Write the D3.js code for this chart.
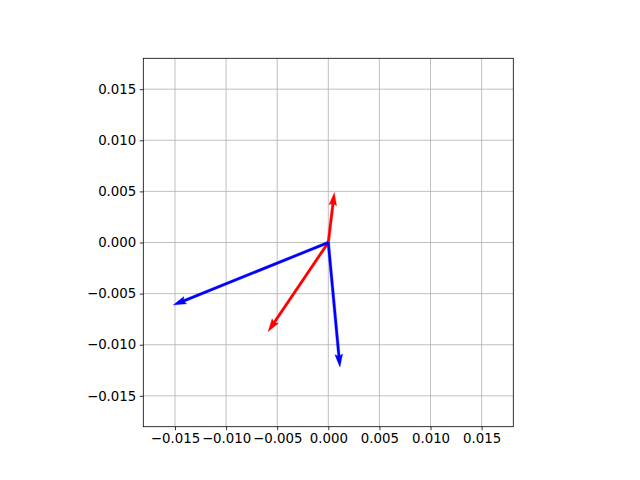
<!DOCTYPE html>
<html>
<head>
<meta charset="utf-8">
<script src="https://cdn.jsdelivr.net/npm/d3@7"></script>
<style>
  body { margin: 0; background: white; }
  text { font-family: "DejaVu Sans", sans-serif; font-size: 13.33px; }
</style>
</head>
<body>
<svg id="chart" width="640" height="480"></svg>
<script>
// quiver vectors, all starting at the origin
var vecU = [0.00059, -0.0059, -0.01517, 0.00114];
var vecV = [0.0049, -0.00873, -0.00612, -0.0122];
var vecColors = ['red', 'red', 'blue', 'blue'];
var tickValues = [-0.015, -0.010, -0.005, 0.000, 0.005, 0.010, 0.015];

var svg = d3.select('svg#chart');
// note: "top" is a window global, so use other names
var plotLeft = 143.3, plotRight = 513.3, plotTop = 58.3, plotBottom = 426.7;

var x = d3.scaleLinear().domain([-0.0181, 0.0181]).range([plotLeft, plotRight]);
var y = d3.scaleLinear().domain([-0.01802, 0.01802]).range([plotBottom, plotTop]);

var fmt = function(d){ return d3.format('.3f')(d).replace('-', '\u2212'); };

// grid
svg.append('g').selectAll('line').data(tickValues).enter().append('line')
    .attr('x1', function(d){ return x(d); }).attr('x2', function(d){ return x(d); })
    .attr('y1', plotTop).attr('y2', plotBottom)
    .style('stroke', '#b0b0b0').style('stroke-width', 0.8);
svg.append('g').selectAll('line').data(tickValues).enter().append('line')
    .attr('y1', function(d){ return y(d); }).attr('y2', function(d){ return y(d); })
    .attr('x1', plotLeft).attr('x2', plotRight)
    .style('stroke', '#b0b0b0').style('stroke-width', 0.8);

// arrows
var w = 2.6;  // shaft width in px
var arrows = svg.append('g');
vecU.forEach(function(u, i){
    var x0 = x(0), y0 = y(0), x1 = x(u), y1 = y(vecV[i]);
    var dx = x1 - x0, dy = y1 - y0;
    var len = Math.sqrt(dx * dx + dy * dy);
    var ux = dx / len, uy = dy / len, nx = -uy, ny = ux;
    var hl = 5 * w, hal = 4.5 * w, hw = 1.5 * w;
    function p(a, b){ return [x0 + ux * a + nx * b, y0 + uy * a + ny * b]; }
    var pts = [p(0, -w / 2), p(len - hal, -w / 2), p(len - hl, -hw), p(len, 0),
               p(len - hl, hw), p(len - hal, w / 2), p(0, w / 2)];
    arrows.append('polygon')
        .attr('points', pts.map(function(q){ return q.join(','); }).join(' '))
        .style('fill', vecColors[i]).style('stroke', vecColors[i]).style('stroke-width', 0.3);
});

// frame
svg.append('rect').attr('x', plotLeft).attr('y', plotTop)
    .attr('width', plotRight - plotLeft).attr('height', plotBottom - plotTop)
    .style('fill', 'none').style('stroke', 'black').style('stroke-width', 0.8);

// axes
var xAxis = d3.axisBottom(x).tickValues(tickValues).tickFormat(fmt).tickSize(3.5).tickPadding(3.5);
var yAxis = d3.axisLeft(y).tickValues(tickValues).tickFormat(fmt).tickSize(3.5).tickPadding(3.5);
var gx = svg.append('g').attr('transform', 'translate(0,' + plotBottom + ')').call(xAxis);
var gy = svg.append('g').attr('transform', 'translate(' + plotLeft + ',0)').call(yAxis);
[gx, gy].forEach(function(g){
    g.select('.domain').remove();
    g.selectAll('line').style('stroke', 'black').style('stroke-width', 0.8);
    g.selectAll('text').style('font-family', '"DejaVu Sans", sans-serif')
        .style('font-size', '13.33px').style('fill', 'black');
});
</script>
</body>
</html>
